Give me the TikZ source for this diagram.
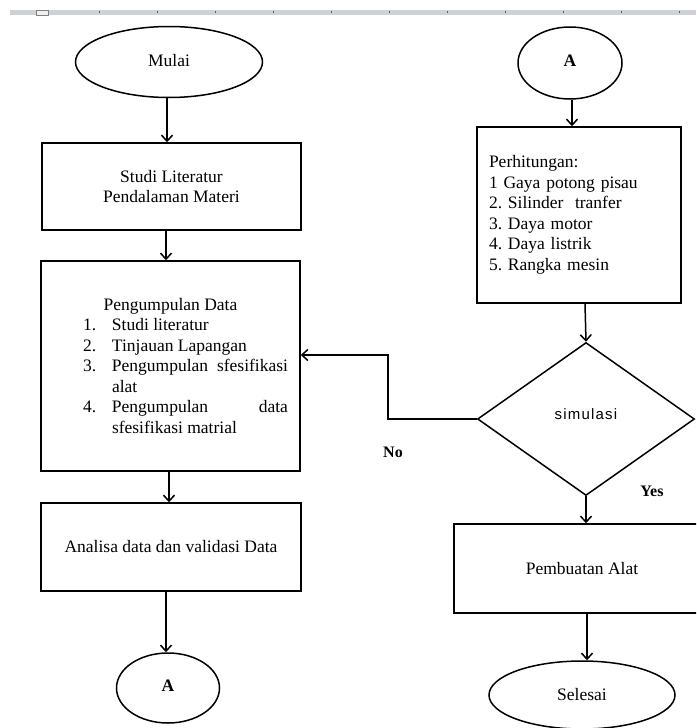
\documentclass[tikz,border=0pt]{standalone}
\usepackage{fontspec}
\setmainfont{Liberation Serif}
\newfontfamily\simfont[LetterSpace=8]{Liberation Sans}
\usepackage{tikz}
\usetikzlibrary{shapes.geometric,arrows.meta}
\definecolor{rulergray}{RGB}{206,209,213}
\frenchspacing

\begin{document}
\begin{tikzpicture}[x=1pt,y=-1pt,
        caja/.style={draw,line width=1.5pt,inner sep=0pt,font=\fontsize{17.5}{20.5}\selectfont},
        elipse/.style={ellipse,draw,line width=1.5pt,inner sep=0pt,font=\fontsize{17.5}{20.5}\selectfont},
        rombo/.style={diamond,draw,line width=1.5pt,inner sep=0pt,font=\simfont\fontsize{15}{18}\selectfont},
        flecha/.style={line width=1.5pt,-{Straight Barb[length=6pt,width=11pt]}},
        etiqueta/.style={font=\bfseries\fontsize{16}{18}\selectfont}]
        \useasboundingbox (0,0) rectangle (696,728);
        \clip (0,0) rectangle (696,728);

        %Regla de la parte superior
        \fill[rulergray] (10,10) rectangle (696,15);
        \draw[gray!70!black,line width=0.6pt] (99,11) -- (99,13) (157,11) -- (157,13)
            (215,11) -- (215,13) (273,11) -- (273,13) (331,11) -- (331,13)
            (389,11) -- (389,13) (447,11) -- (447,13) (505,11) -- (505,13)
            (563,11) -- (563,13) (621,11) -- (621,13) (679,11) -- (679,13);
        \filldraw[fill=gray!12,draw=gray,line width=0.6pt] (36,10) rectangle (48,15.5);

        %Columna izquierda
        \node[elipse,minimum width=187pt,minimum height=71pt] (mulai) at (169,62) {\raisebox{4pt}{Mulai}};

        \node[caja,minimum width=259pt,minimum height=87pt,align=center] (studi) at (171.5,186.5)
            {Studi Literatur\\Pendalaman Materi};

        \node[caja,minimum width=259pt,minimum height=210pt,text width=235pt,align=justify] (kumpul) at (170.5,366)
            {\parindent=0pt
            {\centering Pengumpulan Data\par}
            \leftskip=30pt
            \makebox[29pt][l]{1.}Studi literatur\par
            \makebox[29pt][l]{2.}Tinjauan Lapangan\par
            \hangindent=29pt\hangafter=1 \makebox[29pt][l]{3.}Pengumpulan sfesifikasi\linebreak alat\par
            \hangindent=29pt\hangafter=1 \makebox[29pt][l]{4.}Pengumpulan data\linebreak sfesifikasi matrial\par};

        \node[caja,minimum width=260pt,minimum height=88pt] (analisa) at (171,547)
            {Analisa data dan validasi Data};

        \node[elipse,minimum width=103pt,minimum height=70pt,font=\bfseries\fontsize{17.5}{20.5}\selectfont] (a1) at (168,688) {\raisebox{4pt}{A}};

        %Columna derecha
        \node[elipse,minimum width=104pt,minimum height=72pt,font=\bfseries\fontsize{17.5}{20.5}\selectfont] (a2) at (570,63) {\raisebox{4pt}{A}};

        \node[caja,minimum width=204pt,minimum height=176pt,text width=180pt,align=left] (hitung) at (579,215)
            {Perhitungan:\\1 Gaya potong pisau\\2. Silinder\ \ tranfer\\3. Daya motor\\4. Daya listrik\\5. Rangka mesin};

        \node[rombo,minimum width=217pt,minimum height=153pt] (sim) at (586,419) {\raisebox{9pt}{simulasi}};

        \node[caja,minimum width=256pt,minimum height=89pt] (buat) at (582,568.5) {Pembuatan Alat};

        \node[elipse,minimum width=186pt,minimum height=68pt] (selesai) at (582,695) {Selesai};

        %Flechas entre bloques
        \draw[flecha] (mulai.south -| 167,0) -- (studi.north -| 167,0);
        \draw[flecha] (studi.south -| 166,0) -- (kumpul.north -| 166,0);
        \draw[flecha] (kumpul.south -| 169,0) -- (analisa.north -| 169,0);
        \draw[flecha] (analisa.south -| 166,0) -- (a1.north -| 166,0);

        \draw[flecha] (a2.south -| 572,0) -- (hitung.north -| 572,0);
        \draw[flecha] (hitung.south -| 585,0) -- (sim.north);
        \draw[flecha] (sim.south) -- (buat.north -| sim.south);
        \draw[flecha] (buat.south -| 587,0) -- (selesai.north -| 587,0);

        %Salida No de la simulacion
        \coordinate (codo) at (388,355);
        \draw[flecha] (sim.west) -| (codo) -- (codo -| kumpul.east);
        \node[etiqueta] (no) at (393,452) {No};
        \node[etiqueta] (yes) at (652,491) {Yes};
    \end{tikzpicture}
\end{document}
